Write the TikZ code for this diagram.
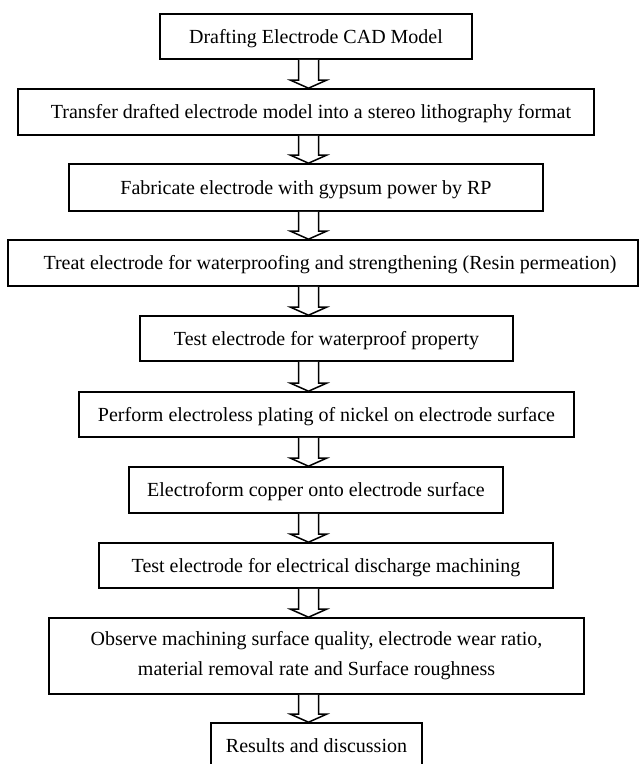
\documentclass[tikz,border=0pt]{standalone}
\usepackage{fontspec}
\setmainfont{Liberation Serif}
\usetikzlibrary{calc}
\begin{document}
\begin{tikzpicture}[x=1pt,y=-1pt,
  box/.style={draw, line width=1.6pt, inner sep=0pt, font=\fontsize{20}{30}\selectfont, text height=13.2pt, text depth=0pt},
  twobox/.style={draw, line width=1.6pt, inner sep=0pt, font=\fontsize{20}{30}\selectfont, align=center},
  arr/.style={draw, line width=1.5pt, line join=miter, fill=white}
]
\useasboundingbox (0,0) rectangle (639,764);
\clip (0,0) rectangle (639,764);
\coordinate (A) at (308.5,0);
\newcommand\flowarrow[2]{\draw[arr] ($(#1.south -| A)+(-10,0)$) -- ($(#2.north -| A)+(-10,-8)$) -- ($(#2.north -| A)+(-18,-8)$) -- (#2.north -| A) -- ($(#2.north -| A)+(18,-8)$) -- ($(#2.north -| A)+(10,-8)$) -- ($(#1.south -| A)+(10,0)$);}

\node[box, minimum width=312pt, minimum height=45pt] (b1) at (316,36.5) {Drafting Electrode CAD Model};
\node[box, minimum width=576pt, minimum height=46pt] (b2) at (306,112) {\hspace{10pt}Transfer drafted electrode model into a stereo lithography format};
\node[box, minimum width=474pt, minimum height=47pt] (b3) at (306,187.5) {Fabricate electrode with gypsum power by RP};
\node[box, minimum width=630pt, minimum height=46pt] (b4) at (323,263) {\hspace{14pt}Treat electrode for waterproofing and strengthening (Resin permeation)};
\node[box, minimum width=373pt, minimum height=45pt] (b5) at (326.5,338.5) {Test electrode for waterproof property};
\node[box, minimum width=495pt, minimum height=45pt] (b6) at (326.5,414.5) {Perform electroless plating of nickel on electrode surface};
\node[box, minimum width=374pt, minimum height=46pt] (b7) at (316,490) {Electroform copper onto electrode surface};
\node[box, minimum width=454pt, minimum height=45pt] (b8) at (326,565.5) {Test electrode for electrical discharge machining};
\node[twobox, minimum width=535pt, minimum height=76pt] (b9) at (316.5,656) {Observe machining surface quality, electrode wear ratio,\\material removal rate and Surface roughness};
\node[box, minimum width=211pt, minimum height=46pt] (b10) at (316.5,746) {Results and discussion};

\flowarrow{b1}{b2}
\flowarrow{b2}{b3}
\flowarrow{b3}{b4}
\flowarrow{b4}{b5}
\flowarrow{b5}{b6}
\flowarrow{b6}{b7}
\flowarrow{b7}{b8}
\flowarrow{b8}{b9}
\flowarrow{b9}{b10}
\end{tikzpicture}
\end{document}
